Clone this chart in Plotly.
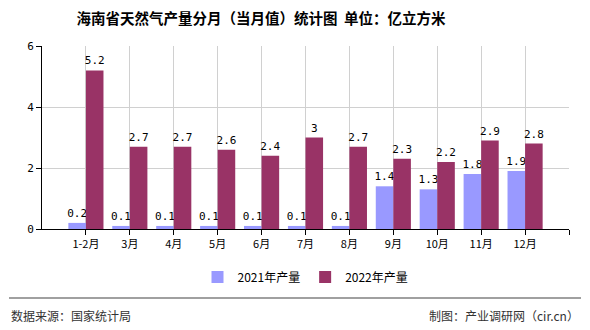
import plotly.graph_objects as go

categories = ["1-2月", "3月", "4月", "5月", "6月", "7月", "8月", "9月", "10月", "11月", "12月"]
v2021 = [0.2, 0.1, 0.1, 0.1, 0.1, 0.1, 0.1, 1.4, 1.3, 1.8, 1.9]
v2022 = [5.2, 2.7, 2.7, 2.6, 2.4, 3, 2.7, 2.3, 2.2, 2.9, 2.8]
names = ["2021年产量", "2022年产量"]
colors = ["#9999FF", "#993366"]

FONT = "Noto Sans CJK SC"
MONO = "DejaVu Sans Mono"
xs = list(range(len(categories)))

fig = go.Figure()
for vals, name, col in zip([v2021, v2022], names, colors):
    fig.add_trace(go.Bar(
        x=xs, y=vals, name=name, marker=dict(color=col, line=dict(width=0)),
        text=[str(v) for v in vals], textposition="outside", cliponaxis=False,
        constraintext="none",
        textfont=dict(family=MONO, size=11, color="#000000"),
    ))

fig.update_layout(
    width=590, height=330,
    margin=dict(l=42, r=21, t=46, b=101),
    paper_bgcolor="white", plot_bgcolor="white",
    barmode="group", bargap=0.2, bargroupgap=0,
    title=dict(text="<b>海南省天然气产量分月（当月值）统计图  单位：亿立方米</b>",
               x=261 / 590, xanchor="center", y=1 - 19 / 330, yanchor="middle",
               font=dict(family=FONT, size=14.5, color="#000000")),
    font=dict(family=FONT, size=11, color="#000000"),
    xaxis=dict(range=[-1, 11], tickmode="array", tickvals=xs + [11], ticktext=categories + [""],
               showgrid=True, gridcolor="#d0d0d0", gridwidth=1,
               showline=True, linecolor="#000000", linewidth=1,
               ticks="outside", ticklen=5, tickcolor="#000000",
               tickfont=dict(family=FONT, size=11, color="#000000"), zeroline=False),
    yaxis=dict(range=[0, 6], tickvals=[0, 2, 4, 6], showgrid=True, gridcolor="#d0d0d0",
               showline=True, linecolor="#000000", linewidth=1,
               ticks="outside", ticklen=5, tickcolor="#000000",
               tickfont=dict(family=MONO, size=11, color="#000000"), zeroline=False),
    legend=dict(orientation="h", x=0.5, xanchor="center", y=-0.262, yanchor="middle",
                font=dict(family=FONT, size=12, color="#000000"), itemwidth=30),
    shapes=[dict(type="line", xref="paper", yref="paper", x0=-0.0626, x1=1.0228,
                 y0=-0.377, y1=-0.377, line=dict(color="#808080", width=1.5))],
    annotations=[
        dict(text="数据来源：国家统计局", xref="paper", yref="paper", x=-0.0626, y=-0.475,
             xanchor="left", yanchor="middle", showarrow=False,
             font=dict(family=FONT, size=12, color="#333333")),
        dict(text="制图：产业调研网（cir.cn）", xref="paper", yref="paper", x=1.0228, y=-0.475,
             xanchor="right", yanchor="middle", showarrow=False,
             font=dict(family=FONT, size=12, color="#333333")),
    ],
)

fig.write_html("out.html")
